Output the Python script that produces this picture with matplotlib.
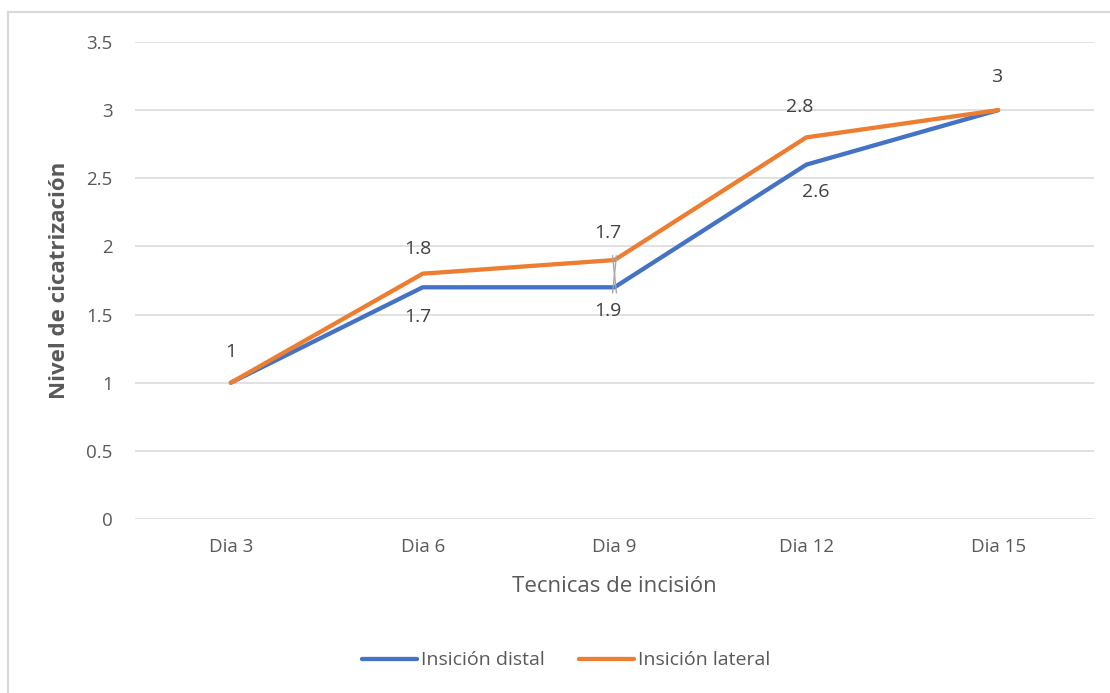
import matplotlib.pyplot as plt
from matplotlib.lines import Line2D

plt.rcParams['font.family'] = ['Open Sans', 'DejaVu Sans']

# Datos de cicatrización por día
dias = ["Dia 3", "Dia 6", "Dia 9", "Dia 12", "Dia 15"]
distal = [1.0, 1.7, 1.7, 2.6, 3.0]
lateral = [1.0, 1.8, 1.9, 2.8, 3.0]

AZUL = "#4472C4"
NARANJA = "#ED7D31"
GRIS_TXT = "#595959"
GRIS_ETQ = "#404040"
GRIS_GRID = "#D9D9D9"

fig = plt.figure(figsize=(11.1, 6.93), dpi=100)
ax = fig.add_axes([0.1216, 0.2511, 0.8640, 0.6883])

x = list(range(len(dias)))
ax.plot(x, distal, color=AZUL, lw=3.1, solid_capstyle='round', zorder=3)
ax.plot(x, lateral, color=NARANJA, lw=3.1, solid_capstyle='round', zorder=4)

ax.set_xlim(-0.5, len(dias) - 0.5)
ax.set_ylim(0, 3.5)
ax.set_yticks([0, 0.5, 1, 1.5, 2, 2.5, 3, 3.5])
ax.set_yticklabels(["0", "0.5", "1", "1.5", "2", "2.5", "3", "3.5"])
ax.set_xticks(x)
ax.set_xticklabels(dias)
ax.tick_params(axis='both', length=0, labelsize=13.5, labelcolor=GRIS_TXT)
ax.tick_params(axis='x', pad=14)
ax.tick_params(axis='y', pad=16)
ax.grid(axis='y', color=GRIS_GRID, lw=1.1)
ax.set_axisbelow(True)
for s in ax.spines.values():
    s.set_visible(False)

ax.set_ylabel("Nivel de cicatrización", fontsize=16, fontweight='bold',
              color=GRIS_TXT, labelpad=12)
ax.set_xlabel("Tecnicas de incisión", fontsize=16, color=GRIS_TXT, labelpad=14)

# Etiquetas de datos: (x, y del punto, texto, desplazamiento en px)
etiquetas = [
    (0, distal[0], distal[0], (0, -31)),
    (1, lateral[1], lateral[1], (-5, -25)),
    (1, distal[1], distal[1], (-5, 30)),
    (2, lateral[2], distal[2], (-7, -27)),
    (2, distal[2], lateral[2], (-7, 24)),
    (3, lateral[3], lateral[3], (-7, -30)),
    (3, distal[3], distal[3], (9, 27)),
    (4, lateral[4], lateral[4], (-1, -33)),
]
for xi, yi, val, (dx, dy) in etiquetas:
    ax.annotate(f"{val:g}", (xi, yi), xytext=(dx * 0.72, -dy * 0.72),
                textcoords='offset points', ha='center', va='center',
                fontsize=14, color=GRIS_ETQ, zorder=5)

# Líneas guía de las etiquetas del día 9
ax.plot([1.99, 2.01], [1.93, 1.66], color="#A6A6A6", lw=1, zorder=6)
ax.plot([2.01, 1.99], [1.93, 1.66], color="#A6A6A6", lw=1, zorder=6)

handles = [Line2D([], [], color=AZUL, lw=3.1, solid_capstyle='round'),
           Line2D([], [], color=NARANJA, lw=3.1, solid_capstyle='round')]
fig.legend(handles, ["Insición distal", "Insición lateral"], loc='center',
           bbox_to_anchor=(0.51, 0.047), ncol=2, frameon=False,
           fontsize=14, labelcolor=GRIS_TXT, handlelength=2.8,
           handletextpad=0.2, columnspacing=1.8)

# Marco del gráfico
fig.add_artist(Line2D([0.0072, 0.0072], [0.0, 0.983], color=GRIS_GRID,
                      lw=1.5, transform=fig.transFigure))
fig.add_artist(Line2D([0.0072, 1.0], [0.983, 0.983], color=GRIS_GRID,
                      lw=1.5, transform=fig.transFigure))

fig.savefig("out.png", dpi=100)
